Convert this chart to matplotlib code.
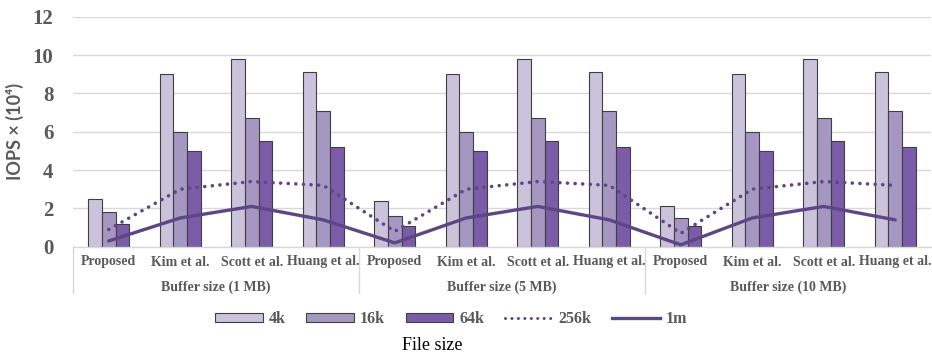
import matplotlib
matplotlib.use("Agg")
import matplotlib.pyplot as plt
from matplotlib.lines import Line2D
from matplotlib.patches import Patch
import numpy as np

# ---- data ----
methods = ["Proposed", "Kim et al.", "Scott et al.", "Huang et al."]
buffers = ["Buffer size (1 MB)", "Buffer size (5 MB)", "Buffer size (10 MB)"]

iops_4k = [2.5, 9.0, 9.8, 9.1,
           2.4, 9.0, 9.8, 9.1,
           2.1, 9.0, 9.8, 9.1]
iops_16k = [1.8, 6.0, 6.7, 7.1,
            1.6, 6.0, 6.7, 7.1,
            1.5, 6.0, 6.7, 7.1]
iops_64k = [1.2, 5.0, 5.5, 5.2,
            1.1, 5.0, 5.5, 5.2,
            1.1, 5.0, 5.5, 5.2]
iops_256k = [0.9, 3.0, 3.4, 3.2,
             0.8, 3.0, 3.4, 3.2,
             0.7, 3.0, 3.4, 3.2]
iops_1m = [0.3, 1.5, 2.1, 1.4,
           0.2, 1.5, 2.1, 1.4,
           0.1, 1.5, 2.1, 1.4]

yticks = [0, 2, 4, 6, 8, 10, 12]

# ---- style ----
c4k, c16k, c64k = "#cbc3dc", "#a597c2", "#7b5ca8"
cline = "#5c4684"
edge = "#3f3f3f"
grid_c = "#d9d9d9"
txt_c = "#595959"
serif = "Liberation Serif"
dots = (0, (0.01, 2.1))

W, H = 932, 357
fig = plt.figure(figsize=(W / 100, H / 100), dpi=100)
ax = fig.add_axes([73 / W, (H - 246.7) / H, (931 - 73) / W, 230 / H])

n = len(iops_4k)
x = np.arange(n)
bw = 0.19

ax.bar(x - bw, iops_4k, bw, color=c4k, edgecolor=edge, linewidth=0.8, zorder=2)
ax.bar(x, iops_16k, bw, color=c16k, edgecolor=edge, linewidth=0.8, zorder=2)
ax.bar(x + bw, iops_64k, bw, color=c64k, edgecolor=edge, linewidth=0.8, zorder=2)
ax.plot(x, iops_256k, color=cline, linestyle=dots, linewidth=2.6,
        dash_capstyle="round", zorder=3)
ax.plot(x, iops_1m, color=cline, linewidth=2.4, solid_capstyle="round", zorder=3)

ax.set_xlim(-0.5, n - 0.5)
ax.set_ylim(0, 12)
ax.set_yticks(yticks)
ax.set_yticklabels([str(v) for v in yticks], fontfamily=serif, fontweight="bold",
                   fontsize=15, color=txt_c)
ax.tick_params(axis="y", length=0, pad=14)
ax.tick_params(axis="x", length=0, labelbottom=False)
ax.yaxis.grid(True, color=grid_c, linewidth=1, zorder=0)
ax.set_axisbelow(True)
for s in ["top", "right", "left"]:
    ax.spines[s].set_visible(False)
ax.spines["bottom"].set_color(grid_c)
ax.spines["bottom"].set_linewidth(1)

ax.set_ylabel("IOPS × (10⁴)", family=["Lato", "DejaVu Sans"], fontweight="bold",
              fontsize=13, color=txt_c, labelpad=6)

# two-level category axis
trans = ax.get_xaxis_transform()
px = 1 / 230
for i in range(n):
    ax.text(x[i], -(262 - 246.7) * px, methods[i % len(methods)], transform=trans,
            ha="center", va="center", fontfamily=serif, fontweight="bold",
            fontsize=10, color=txt_c)
ng = len(methods)
for g, name in enumerate(buffers):
    center = g * ng + (ng - 1) / 2
    ax.text(center, -(287 - 246.7) * px, name, transform=trans, ha="center",
            va="center", fontfamily=serif, fontweight="bold", fontsize=10,
            color=txt_c)
for b in range(len(buffers)):
    xs = b * ng - 0.5
    ax.add_line(Line2D([xs, xs], [0, -(293 - 246.7) * px], transform=trans,
                       color=grid_c, linewidth=1, clip_on=False))

# legend
handles = [
    Patch(facecolor=c4k, edgecolor=edge, linewidth=0.8),
    Patch(facecolor=c16k, edgecolor=edge, linewidth=0.8),
    Patch(facecolor=c64k, edgecolor=edge, linewidth=0.8),
    Line2D([], [], color=cline, linestyle=dots, linewidth=2.2,
           dash_capstyle="round"),
    Line2D([], [], color=cline, linewidth=2.4),
]
labels = ["4k", "16k", "64k", "256k", "1m"]
fig.legend(handles, labels, loc="center", bbox_to_anchor=(451 / W, 1 - 319 / H),
           ncol=5, frameon=False, handlelength=3.0, handleheight=0.45,
           handletextpad=0.35, columnspacing=1.3,
           prop={"family": serif, "weight": "bold", "size": 11.5},
           labelcolor=txt_c)

fig.text(432 / W, 1 - 345 / H, "File size", ha="center", va="center",
         fontfamily=serif, fontsize=13, color="black")

fig.savefig("out.png", dpi=100)
